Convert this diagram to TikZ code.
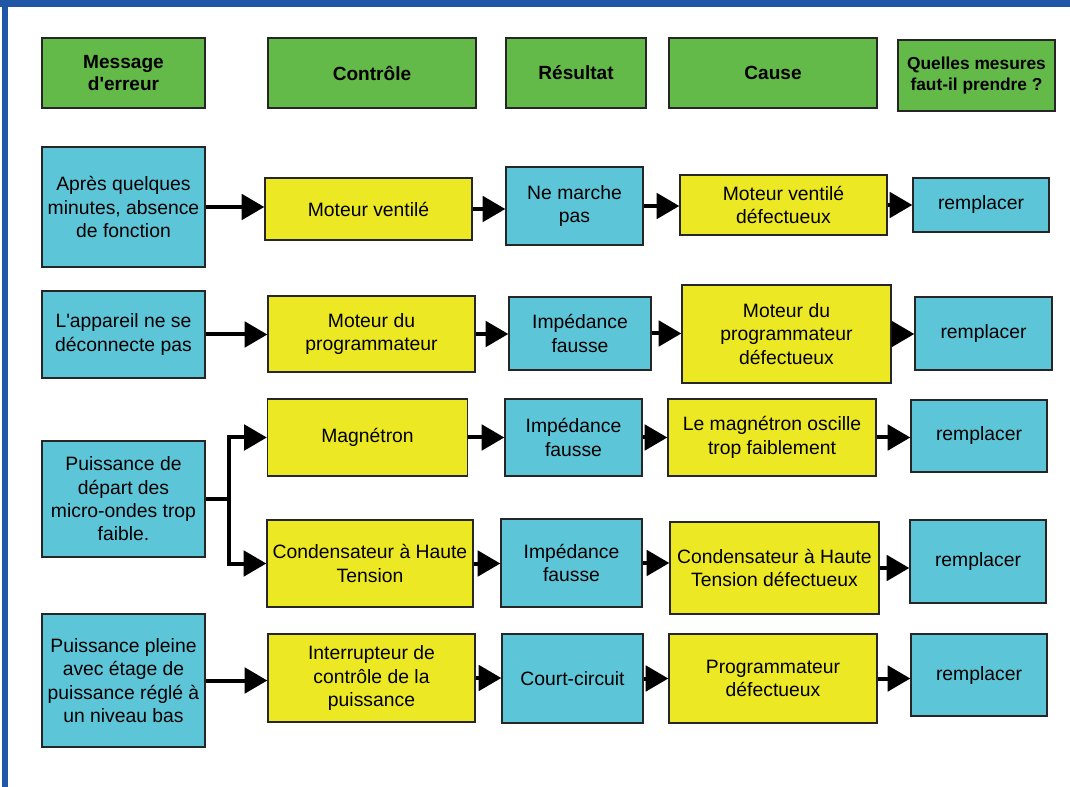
\documentclass[tikz,border=0pt]{standalone}
\usepackage{fontspec}
\setmainfont{Liberation Sans}
\usetikzlibrary{arrows.meta}
\usetikzlibrary{calc}

\definecolor{headgreen}{RGB}{100,186,72}
\definecolor{faultcyan}{RGB}{92,197,216}
\definecolor{partyellow}{RGB}{237,232,36}
\definecolor{frameblue}{RGB}{32,86,166}

\begin{document}
\begin{tikzpicture}[x=0.75pt,y=-0.75pt,
	head/.style={draw=black!85,fill=headgreen,rectangle,line width=1pt,align=center,inner sep=2pt,font=\fontsize{14.3}{17}\selectfont\bfseries},
	fault/.style={draw=black!85,fill=faultcyan,rectangle,line width=1pt,align=center,inner sep=2pt,font=\fontsize{14.5}{17.5}\selectfont},
	part/.style={fault,fill=partyellow},
	box/.style 2 args={minimum width=#1*0.75pt,minimum height=#2*0.75pt},
	flow/.style={line width=3pt,-{Triangle[length=17pt,width=19pt]}}]
	\useasboundingbox (0,0) rectangle (1070,787);
	\fill[frameblue] (0,0) rectangle (1070,7);
	\fill[frameblue] (2,0) rectangle (8,787);

	% column heads
	\node[head,box={163}{70}] (msg)   at (123.5,73) {Message\\d\textquotesingle erreur};
	\node[head,box={208}{70}] (ctrl)  at (372,73)   {Contrôle};
	\node[head,box={140}{70}] (res)   at (576,73)   {Résultat};
	\node[head,box={208}{70}] (cause) at (773,73)   {Cause};
	\node[head,box={157}{71},font=\fontsize{13}{16}\selectfont\bfseries] (mes) at (976.5,75.5) {Quelles mesures\\faut-il prendre ?};

	% row 1
	\node[fault,box={163}{120}] (err1)   at (123.5,207) {Après quelques\\minutes, absence\\de fonction};
	\node[part,box={207}{62}]   (ctrl1)  at (368.5,209) {Moteur ventilé};
	\node[fault,box={137}{78}]  (res1)   at (574.5,206) {Ne marche\\pas};
	\node[part,box={207}{60}]   (cause1) at (783.5,205) {Moteur ventilé\\défectueux};
	\node[fault,box={136}{54}]  (fix1)   at (981,205)   {remplacer};

	% row 2
	\node[fault,box={163}{87}]  (err2)   at (123.5,334.5) {L\textquotesingle appareil ne se\\déconnecte pas};
	\node[part,box={207}{76}]   (ctrl2)  at (371.5,334)   {Moteur du\\programmateur};
	\node[fault,box={142}{73}]  (res2)   at (580,333.5)   {Impédance\\fausse};
	\node[part,box={209}{98}]   (cause2) at (786.5,334)   {Moteur du\\programmateur\\défectueux};
	\node[fault,box={137}{73}]  (fix2)   at (983.5,333.5) {remplacer};

	% row 3
	\node[fault,box={163}{116}] (err3)    at (123.5,499)   {Puissance de\\départ des\\micro-ondes trop\\faible.};
	\node[part,box={200}{77}]   (ctrl3a)  at (367.5,437.5) {Magnétron};
	\node[fault,box={137}{77}]  (res3a)   at (573.5,437.5) {Impédance\\fausse};
	\node[part,box={208}{77}]   (cause3a) at (772,437.5)   {Le magnétron oscille\\trop faiblement};
	\node[fault,box={136}{72}]  (fix3a)   at (979,436)     {remplacer};
	\node[part,box={206}{87}]   (ctrl3b)  at (370,563.5)   {Condensateur à Haute\\Tension};
	\node[fault,box={141}{88}]  (res3b)   at (571.5,563)   {Impédance\\fausse};
	\node[part,box={209}{92}]   (cause3b) at (774.5,568)   {Condensateur à Haute\\Tension défectueux};
	\node[fault,box={136}{83}]  (fix3b)   at (978,561.5)   {remplacer};

	% row 4
	\node[fault,box={163}{133}] (err4)   at (123.5,680.5) {Puissance pleine\\avec étage de\\puissance réglé à\\un niveau bas};
	\node[part,box={207}{88}]   (ctrl4)  at (371.5,678)   {Interrupteur de\\contrôle de la\\puissance};
	\node[fault,box={141}{89}]  (res4)   at (572.5,678.5) {Court-circuit};
	\node[part,box={208}{89}]   (cause4) at (773,678.5)   {Programmateur\\défectueux};
	\node[fault,box={136}{82}]  (fix4)   at (979,675)     {remplacer};

	\draw[flow] (err1) -- (err1 -| ctrl1.west);
	\draw[flow] (ctrl1) -- (ctrl1 -| res1.west);
	\draw[flow] (res1) -- (res1 -| cause1.west);
	\draw[flow] (cause1) -- (cause1 -| fix1.west);

	\draw[flow] (err2) -- (err2 -| ctrl2.west);
	\draw[flow] (ctrl2) -- (ctrl2 -| res2.west);
	\draw[flow] (res2) -- (res2 -| cause2.west);
	\draw[flow] (cause2) -- (cause2 -| fix2.west);

	\coordinate (fork) at ($(err3.east)+(23,0)$);
	\draw[line width=3pt] (err3) -- (fork);
	\draw[flow] (fork) |- (ctrl3a.west);
	\draw[flow] (fork) |- (ctrl3b.west);
	\draw[flow] (ctrl3a) -- (ctrl3a -| res3a.west);
	\draw[flow] (res3a) -- (res3a -| cause3a.west);
	\draw[flow] (cause3a) -- (cause3a -| fix3a.west);
	\draw[flow] (ctrl3b) -- (ctrl3b -| res3b.west);
	\draw[flow] (res3b) -- (res3b -| cause3b.west);
	\draw[flow] (cause3b) -- (cause3b -| fix3b.west);

	\draw[flow] (err4) -- (err4 -| ctrl4.west);
	\draw[flow] (ctrl4) -- (ctrl4 -| res4.west);
	\draw[flow] (res4) -- (res4 -| cause4.west);
	\draw[flow] (cause4) -- (cause4 -| fix4.west);
\end{tikzpicture}
\end{document}
